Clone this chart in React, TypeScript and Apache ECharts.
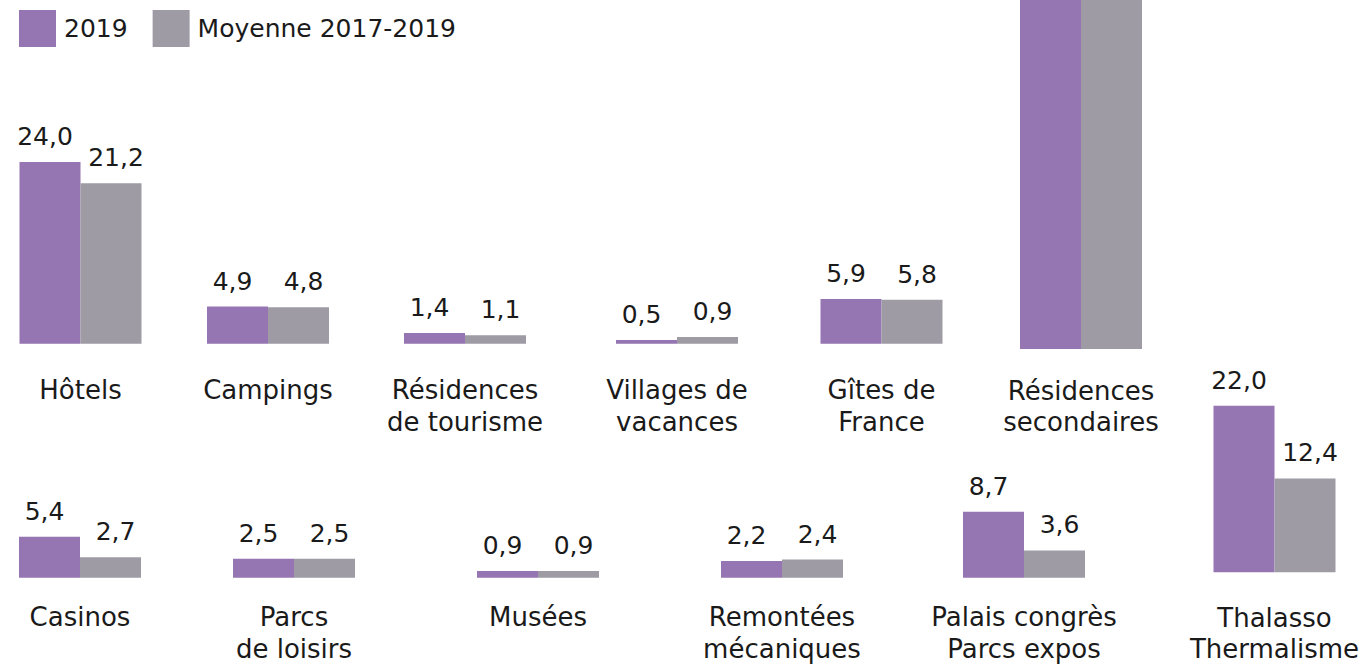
import React, { useEffect, useRef } from "react";
import * as echarts from "echarts";

// ---- Data ----
const seriesNames = ["2019", "Moyenne 2017-2019"];
const categoriesTop = [
  "Hôtels",
  "Campings",
  "Résidences\nde tourisme",
  "Villages de\nvacances",
  "Gîtes de\nFrance",
  "Résidences\nsecondaires",
];
const values2019Top = [24.0, 4.9, 1.4, 0.5, 5.9, 63.3];
const valuesAvgTop = [21.2, 4.8, 1.1, 0.9, 5.8, 66.2];

const categoriesBottom = [
  "Casinos",
  "Parcs\nde loisirs",
  "Musées",
  "Remontées\nmécaniques",
  "Palais congrès\nParcs expos",
  "Thalasso\nThermalisme",
];
const values2019Bottom = [5.4, 2.5, 0.9, 2.2, 8.7, 22.0];
const valuesAvgBottom = [2.7, 2.5, 0.9, 2.4, 3.6, 12.4];

// ---- Layout (positions / styles) ----
const PX_PER_UNIT = 7.57;
const COLORS = ["#9575B2", "#9E9BA5"];
const TEXT = "#1a1a1a";
const FONT = "'DejaVu Sans', sans-serif";

const layoutTop = [
  { left: 19.5, base: 343.7, margin: 31 },
  { left: 207, base: 343.7, margin: 31 },
  { left: 404, base: 343.7, margin: 31 },
  { left: 616, base: 343.7, margin: 31 },
  { left: 820.5, base: 343.7, margin: 31 },
  { left: 1020, base: 349, margin: 26 },
];
const layoutBottom = [
  { left: 19, base: 577.7, margin: 24 },
  { left: 233, base: 577.7, margin: 24 },
  { left: 477, base: 577.7, margin: 24 },
  { left: 721, base: 577.7, margin: 24 },
  { left: 963, base: 577.7, margin: 24 },
  { left: 1213.5, base: 572.3, margin: 29.5 },
];
const GROUP_W = 122;

const fmt = (v: number) => v.toFixed(1).replace(".", ",");

function buildOption() {
  const grids: any[] = [];
  const xAxes: any[] = [];
  const yAxes: any[] = [];
  const series: any[] = [];

  const groups = [
    ...categoriesTop.map((c, i) => ({
      cat: c,
      vals: [values2019Top[i], valuesAvgTop[i]],
      lay: layoutTop[i],
      gridTop: 0,
    })),
    ...categoriesBottom.map((c, i) => ({
      cat: c,
      vals: [values2019Bottom[i], valuesAvgBottom[i]],
      lay: layoutBottom[i],
      gridTop: 380,
    })),
  ];

  groups.forEach((g, idx) => {
    const height = g.lay.base - g.gridTop;
    const max = height / PX_PER_UNIT;
    grids.push({
      left: g.lay.left,
      top: g.gridTop,
      width: GROUP_W,
      height,
      containLabel: false,
    });
    xAxes.push({
      type: "category",
      gridIndex: idx,
      data: [g.cat],
      axisLine: { show: false },
      axisTick: { show: false },
      splitLine: { show: false },
      axisLabel: {
        interval: 0,
        margin: g.lay.margin,
        fontSize: 26,
        lineHeight: 31.5,
        color: TEXT,
        fontFamily: FONT,
        align: "center",
      },
    });
    yAxes.push({
      type: "value",
      gridIndex: idx,
      min: 0,
      max,
      show: false,
      splitLine: { show: false },
    });
    g.vals.forEach((v, s) => {
      series.push({
        type: "bar",
        name: seriesNames[s],
        xAxisIndex: idx,
        yAxisIndex: idx,
        data: [v],
        barGap: "0%",
        barCategoryGap: "0%",
        clip: true,
        itemStyle: { color: COLORS[s] },
        label: {
          show: v <= max,
          position: "top",
          distance: 13,
          offset: [s === 0 ? -5 : 5, 0],
          fontSize: 25,
          color: TEXT,
          fontFamily: FONT,
          formatter: (p: any) => fmt(p.value),
        },
      });
    });
  });

  return {
    animation: false,
    backgroundColor: "#ffffff",
    textStyle: { fontFamily: FONT },
    legend: {
      data: seriesNames,
      left: 14,
      top: 5,
      itemWidth: 37,
      itemHeight: 37,
      itemGap: 25,
      icon: "rect",
      textStyle: {
        fontSize: 25,
        color: TEXT,
        fontFamily: FONT,
        padding: [0, 0, 0, 3],
      },
      selectedMode: false,
    },
    grid: grids,
    xAxis: xAxes,
    yAxis: yAxes,
    series,
  };
}

export default function App() {
  const ref = useRef<HTMLDivElement>(null);
  useEffect(() => {
    if (!ref.current) return;
    const chart = echarts.init(ref.current, undefined, { renderer: "svg" });
    chart.setOption(buildOption() as any);
    return () => chart.dispose();
  }, []);
  return (
    <div
      ref={ref}
      style={{ position: "fixed", left: 0, top: 0, width: 1370, height: 667, background: "#fff" }}
    />
  );
}
